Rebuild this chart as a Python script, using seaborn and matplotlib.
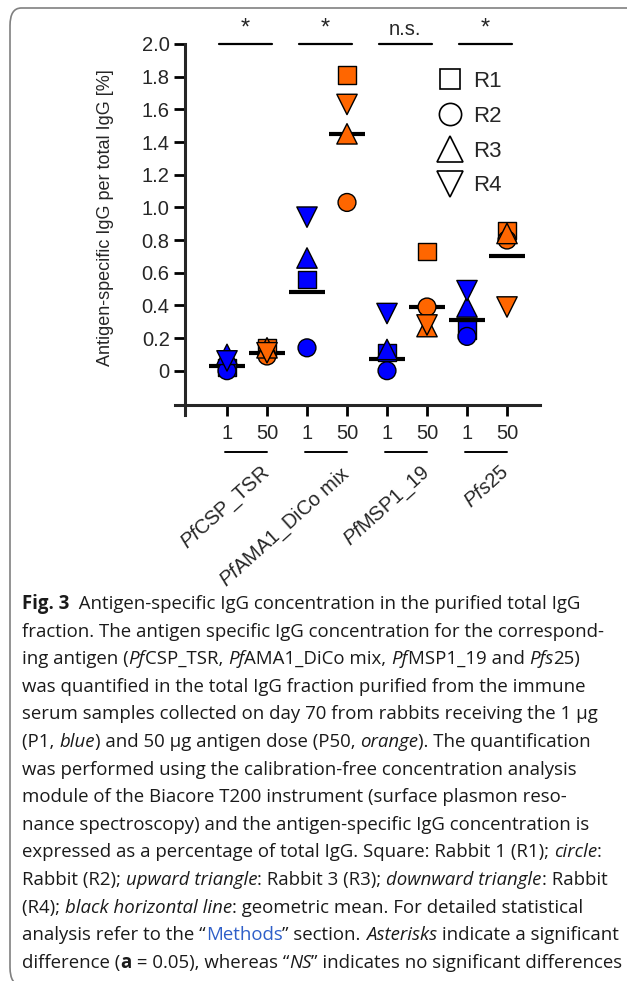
import matplotlib
matplotlib.use("Agg")
import matplotlib.pyplot as plt
import pandas as pd
import seaborn as sns
from matplotlib.font_manager import FontProperties
from matplotlib.lines import Line2D
from matplotlib.patches import FancyBboxPatch

# ---- data ----
antigens = [r"$\mathit{Pf}$CSP_TSR", r"$\mathit{Pf}$AMA1_DiCo mix",
            r"$\mathit{Pf}$MSP1_19", r"$\mathit{Pfs}$25"]
doses = ["1", "50"]
rabbits = ["R1", "R2", "R3", "R4"]
# order of columns: antigen x dose  (CSP 1, CSP 50, AMA1 1, AMA1 50, ...)
r1 = [0.02, 0.14, 0.56, 1.81, 0.11, 0.73, 0.25, 0.86]
r2 = [0.00, 0.09, 0.14, 1.03, 0.00, 0.39, 0.21, 0.80]
r3 = [0.10, 0.14, 0.69, 1.45, 0.13, 0.27, 0.39, 0.84]
r4 = [0.06, 0.11, 0.94, 1.63, 0.35, 0.28, 0.49, 0.39]
geo_mean = [0.03, 0.11, 0.48, 1.45, 0.07, 0.39, 0.31, 0.70]
significance = ["*", "*", "n.s.", "*"]
ytick_values = [0, 0.2, 0.4, 0.6, 0.8, 1.0, 1.2, 1.4, 1.6, 1.8, 2.0]
ytick_labels = ["0", "0.2", "0.4", "0.6", "0.8", "1.0", "1.2", "1.4", "1.6", "1.8", "2.0"]

caption = [
    [("Fig. 3", "b"), ("  Antigen-specific IgG concentration in the purified total IgG", "n")],
    [("fraction. The antigen specific IgG concentration for the correspond-", "n")],
    [("ing antigen (", "n"), ("Pf", "i"), ("CSP_TSR, ", "n"), ("Pf", "i"), ("AMA1_DiCo mix, ", "n"),
     ("Pf", "i"), ("MSP1_19 and ", "n"), ("Pfs", "i"), ("25)", "n")],
    [("was quantified in the total IgG fraction purified from the immune", "n")],
    [("serum samples collected on day 70 from rabbits receiving the 1 \u00b5g", "n")],
    [("(P1, ", "n"), ("blue", "i"), (") and 50 \u00b5g antigen dose (P50, ", "n"), ("orange", "i"),
     ("). The quantification", "n")],
    [("was performed using the calibration-free concentration analysis", "n")],
    [("module of the Biacore T200 instrument (surface plasmon reso-", "n")],
    [("nance spectroscopy) and the antigen-specific IgG concentration is", "n")],
    [("expressed as a percentage of total IgG. Square: Rabbit 1 (R1); ", "n"), ("circle", "i"), (":", "n")],
    [("Rabbit (R2); ", "n"), ("upward triangle", "i"), (": Rabbit 3 (R3); ", "n"),
     ("downward triangle", "i"), (": Rabbit", "n")],
    [("(R4); ", "n"), ("black horizontal line", "i"), (": geometric mean. For detailed statistical", "n")],
    [("analysis refer to the \u201c", "n"), ("Methods", "link"), ("\u201d section. ", "n"),
     ("Asterisks", "i"), (" indicate a significant", "n")],
    [("difference (", "n"), ("a", "b"), (" = 0.05), whereas \u201c", "n"), ("NS", "i"),
     ("\u201d indicates no significant differences", "n")],
]

rows = []
for rabbit, vals in zip(rabbits, [r1, r2, r3, r4]):
    for i, v in enumerate(vals):
        rows.append({"pos": i, "value": v, "rabbit": rabbit, "dose": doses[i % 2]})
df = pd.DataFrame(rows)

sns.set_style("ticks")
plt.rcParams["font.family"] = ["Liberation Sans", "DejaVu Sans"]
plt.rcParams["mathtext.fontset"] = "custom"
plt.rcParams["mathtext.rm"] = "Liberation Sans"
plt.rcParams["mathtext.it"] = "Liberation Sans:italic"

W, H = 627, 981
fig = plt.figure(figsize=(W / 100, H / 100), dpi=100)
fig.patch.set_facecolor("white")

# rounded frame around the figure
frame = FancyBboxPatch((10 / W, 1 - 985 / H), 640 / W, 977 / H,
                       boxstyle="round,pad=0,rounding_size=0.018",
                       transform=fig.transFigure, fill=False,
                       edgecolor="#808080", linewidth=1.2, clip_on=False)
fig.add_artist(frame)

ax = fig.add_axes([185 / W, (H - 405) / H, 355 / W, 361 / H])
ax.set_facecolor("none")

ax.hlines(geo_mean, [p - 0.44 for p in range(8)], [p + 0.44 for p in range(8)],
          color="black", linewidth=3, zorder=2)

sns.scatterplot(data=df, x="pos", y="value", hue="dose", style="rabbit", size="rabbit",
                hue_order=doses, style_order=rabbits, size_order=rabbits,
                palette={"1": "#0000ff", "50": "#ff6600"},
                markers={"R1": "s", "R2": "o", "R3": "^", "R4": "v"},
                sizes={"R1": 155, "R2": 165, "R3": 215, "R4": 215},
                edgecolor="black", linewidth=1.0, legend=False, ax=ax,
                zorder=3, clip_on=False)

ax.set_xlim(-1.05, 7.825)
ax.set_ylim(-0.21, 2.0)
ax.set_yticks(ytick_values)
ax.set_yticklabels(ytick_labels, fontsize=14.5)
ax.set_xticks(range(8))
ax.set_xticklabels(doses * 4, fontsize=14.5)
ax.tick_params(axis="both", length=8, width=2, color="black", direction="out")
ax.tick_params(axis="y", pad=3)
ax.tick_params(axis="x", pad=6)
ax.set_xlabel("")
ax.set_ylabel("Antigen-specific IgG per total IgG [%]", fontsize=13)
ax.yaxis.set_label_coords(-0.2, 0.52)

for side in ["top", "right"]:
    ax.spines[side].set_visible(False)
for side in ["left", "bottom"]:
    ax.spines[side].set_linewidth(2.2)
ax.spines["left"].set_bounds(-0.27, 2.0)
ax.spines["bottom"].set_bounds(-1.3, 7.825)

# group underline + rotated antigen labels, significance bars on top
for g, name in enumerate(antigens):
    p = 2 * g
    ax.plot([p - 0.05, p + 1.0], [-0.50, -0.50], color="black", lw=1.4, clip_on=False)
    ax.text(p + 0.82, -0.56, name, rotation=42, ha="right", va="top",
            rotation_mode="anchor", fontsize=14.5)
    ax.plot([p - 0.2, p + 1.12], [2.0, 2.0], color="black", lw=1.6, clip_on=False)
    ax.text(p + 0.46, 2.03, significance[g], ha="center", va="bottom",
            fontsize=17 if significance[g] == "*" else 14.5)

handles = [Line2D([], [], marker=m, ls="none", markersize=ms, markerfacecolor="white",
                  markeredgecolor="black", markeredgewidth=1.2)
           for m, ms in zip(["s", "o", "^", "v"], [15, 16, 19, 19])]
ax.legend(handles, rabbits, loc="upper left", bbox_to_anchor=(0.665, 0.968),
          frameon=False, fontsize=16, handlelength=1.2, handletextpad=0.45,
          labelspacing=0.62, borderpad=0.2)

# caption with mixed styles
renderer = fig.canvas.get_renderer()
styles = {"n": dict(weight="normal", style="normal"), "i": dict(weight="normal", style="italic"),
          "b": dict(weight="bold", style="normal"), "link": dict(weight="normal", style="normal")}


def seg_width(text, st, size):
    prop = FontProperties(family="Open Sans", size=size, **styles[st])
    w1 = renderer.get_text_width_height_descent(text + "|", prop, ismath=False)[0]
    w2 = renderer.get_text_width_height_descent("|", prop, ismath=False)[0]
    return w1 - w2


ref_w = sum(seg_width(t, s, 10) for t, s in caption[1])
cap_size = 10 * 582 / ref_w

for k, line in enumerate(caption):
    x = 22
    y = 609 + k * 27.6
    for text, st in line:
        color = "#2f5fc8" if st == "link" else "#1a1a1a"
        fig.text(x / W, 1 - y / H, text, fontsize=cap_size, family="Open Sans",
                 color=color, ha="left", va="baseline", **styles[st])
        x += seg_width(text, st, cap_size)

fig.savefig("out.png", dpi=100)
